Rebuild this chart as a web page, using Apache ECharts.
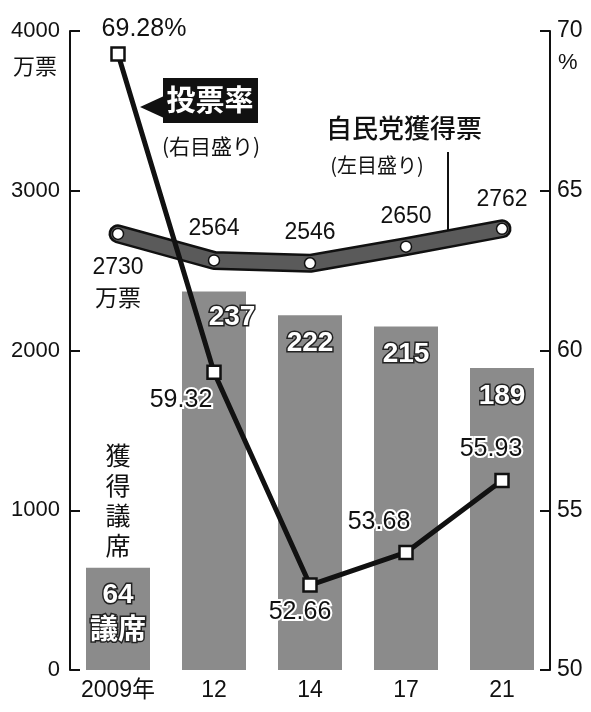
<!DOCTYPE html>
<html><head><meta charset="utf-8">
<script src="https://cdn.jsdelivr.net/npm/echarts@6/dist/echarts.min.js"></script>
<style>html,body{margin:0;padding:0;background:#fff}#c{width:591px;height:712px}</style>
</head><body><div id="c"></div>
<script>
// ---- data ----
const years = ['2009年', '12', '14', '17', '21'];
const seats = [64, 237, 222, 215, 189];          // 獲得議席 (bars)
const votes = [2730, 2564, 2546, 2650, 2762];    // 自民党獲得票 (万票, left axis)
const turnout = [69.28, 59.32, 52.66, 53.68, 55.93]; // 投票率 (%, right axis)
const leftTicks = [0, 1000, 2000, 3000, 4000];
const rightTicks = [50, 55, 60, 65, 70];

// ---- layout (label offsets) ----
const voteLabelOffsets = [[0, 50], [0, -32], [0, -31], [0, -30], [0, -29]];
const turnLabelOffsets = [[26, -25], [-33, 28], [-10, 27], [-27, -30], [-11, -31]];
const seatLabelOffsets = [[0, 0], [18, -2], [0, 0], [0, 0], [0, 0]];

const NUM = "'Liberation Sans','Noto Sans CJK JP',sans-serif";
const JP = "'Noto Sans CJK JP','Liberation Sans',sans-serif";

const chart = echarts.init(document.getElementById('c'));

const barData = seats.map((v, i) => ({
  value: v,
  label: {
    formatter: i === 0 ? v + '\n議席' : String(v),
    offset: seatLabelOffsets[i]
  }
}));
const voteData = votes.map((v, i) => ({
  value: v,
  label: {
    formatter: i === 0 ? v + '\n万票' : String(v),
    offset: voteLabelOffsets[i]
  }
}));
const turnData = turnout.map((v, i) => ({
  value: v,
  label: {
    formatter: i === 0 ? v.toFixed(2) + '%' : v.toFixed(2),
    offset: turnLabelOffsets[i],
    textBorderWidth: i === 0 ? 0 : 4
  }
}));

const option = {
  animation: false,
  backgroundColor: '#fff',
  grid: { left: 70, right: 41, top: 31, bottom: 42 },
  xAxis: {
    type: 'category',
    data: years,
    axisLine: { show: false },
    axisTick: { show: false },
    axisLabel: { color: '#111', fontSize: 23, fontFamily: NUM, margin: 9, interval: 0 }
  },
  yAxis: [
    {
      type: 'value', min: 0, max: 4000, interval: 1000, position: 'left',
      splitLine: { show: false },
      axisLine: { show: true, lineStyle: { color: '#111', width: 2 } },
      axisTick: { show: true, inside: true, length: 10, lineStyle: { color: '#111', width: 2 } },
      axisLabel: { color: '#111', fontSize: 22, fontFamily: NUM, margin: 10,
        formatter: v => leftTicks.includes(v) ? String(v) : '' }
    },
    {
      type: 'value', min: 50, max: 70, interval: 5, position: 'right',
      splitLine: { show: false },
      axisLine: { show: true, lineStyle: { color: '#111', width: 2 } },
      axisTick: { show: true, inside: true, length: 10, lineStyle: { color: '#111', width: 2 } },
      axisLabel: { color: '#111', fontSize: 23, fontFamily: NUM, margin: 7,
        formatter: v => rightTicks.includes(v) ? String(v) : '' }
    },
    {
      type: 'value', min: 0, max: 400, show: false, splitLine: { show: false }
    }
  ],
  series: [
    {
      type: 'bar', yAxisIndex: 2, data: barData, barWidth: 64,
      itemStyle: { color: '#8b8b8b' },
      label: {
        show: true, position: 'insideTop', distance: 10,
        color: '#fff', fontSize: 28, fontWeight: 'bold', fontFamily: NUM,
        textBorderColor: '#222', textBorderWidth: 3, lineHeight: 36
      }
    },
    {
      type: 'line', yAxisIndex: 0, data: votes, symbol: 'none', silent: true,
      lineStyle: { color: '#111', width: 19, cap: 'round', join: 'round' }
    },
    {
      type: 'line', yAxisIndex: 0, data: voteData,
      symbol: 'circle', symbolSize: 11,
      itemStyle: { color: '#fff', borderColor: '#111', borderWidth: 1.5 },
      lineStyle: { color: '#5a5a5a', width: 14, cap: 'round', join: 'round' },
      label: {
        show: true, position: 'inside', color: '#111', fontSize: 23,
        fontFamily: NUM, lineHeight: 32
      }
    },
    {
      type: 'line', yAxisIndex: 1, data: turnData,
      symbol: 'rect', symbolSize: 13,
      itemStyle: { color: '#fff', borderColor: '#111', borderWidth: 2.5 },
      lineStyle: { color: '#111', width: 5 },
      label: {
        show: true, position: 'inside', color: '#111', fontSize: 25,
        fontFamily: NUM, textBorderColor: '#fff', textBorderWidth: 4
      }
    }
  ],
  graphic: [
    { type: 'text', left: 13, top: 55, style: { text: '万票', fontSize: 22, fontFamily: JP, fill: '#111' } },
    { type: 'text', left: 558, top: 52, style: { text: '%', fontSize: 22, fontFamily: NUM, fill: '#111' } },
    { type: 'polygon', shape: { points: [[140, 107], [164, 96], [164, 118]] }, style: { fill: '#111' } },
    { type: 'rect', shape: { x: 163, y: 78, width: 95, height: 45 }, style: { fill: '#111' } },
    { type: 'text', x: 210, y: 100, style: { text: '投票率', fontSize: 29, fontFamily: JP, fill: '#fff', align: 'center', verticalAlign: 'middle', fontWeight: 'bold' } },
    { type: 'text', x: 211, y: 146, style: { text: '(右目盛り)', fontSize: 21, fontFamily: JP, fill: '#111', align: 'center', verticalAlign: 'middle' } },
    { type: 'text', x: 404, y: 128, style: { text: '自民党獲得票', fontSize: 26, fontFamily: JP, fill: '#111', align: 'center', verticalAlign: 'middle', fontWeight: 500 } },
    { type: 'text', x: 377, y: 165, style: { text: '(左目盛り)', fontSize: 20, fontFamily: JP, fill: '#111', align: 'center', verticalAlign: 'middle' } },
    { type: 'line', shape: { x1: 448, y1: 152, x2: 448, y2: 230 }, style: { stroke: '#111', lineWidth: 2 } },
    { type: 'text', x: 118, y: 500, style: { text: '獲\n得\n議\n席', fontSize: 25, lineHeight: 30, fontFamily: JP, fill: '#111', align: 'center', verticalAlign: 'middle' } }
  ]
};
chart.setOption(option);
</script>
</body></html>
